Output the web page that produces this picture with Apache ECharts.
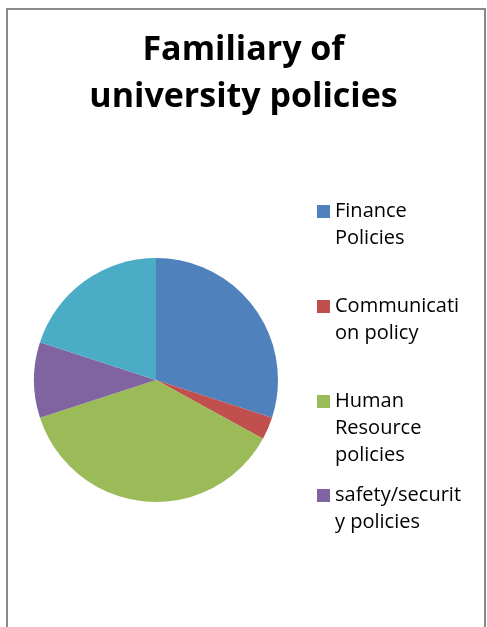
<!DOCTYPE html>
<html>
<head>
<meta charset="UTF-8"/>
<title>Familiary of university policies</title>
<script src="https://cdn.jsdelivr.net/npm/echarts@6/dist/echarts.min.js"></script>
<style>
html,body{margin:0;padding:0;background:#fff;}
#main{width:487px;height:627px;}
</style>
</head>
<body>
<div id="main"></div>
<script type="text/javascript">
// data (percent of answers)
var categories = ['Finance Policies', 'Communication policy', 'Human Resource policies', 'safety/security policies', 'Other policies'];
var values = [30, 3, 37, 10, 20];
var colors = ['#4F81BD', '#C0504D', '#9BBB59', '#8064A2', '#4BACC6'];
// legend labels wrapped the way the original box wraps them (5th entry is cut off)
var legendLabels = ['Finance\nPolicies', 'Communicati\non policy', 'Human\nResource\npolicies', 'safety/securit\ny policies'];
var legendIconTops = [205, 300, 395, 489];

var myChart = echarts.init(document.getElementById('main'));

var pieData = [];
for (var i = 0; i < categories.length; i++) {
    pieData.push({name: categories[i], value: values[i], itemStyle: {color: colors[i]}});
}

// one legend block per entry so each sits at its own height.
// icon is a tall box with the square at the top, so it lines up with the first text line
var LINE = 27;
var legends = [];
for (var j = 0; j < legendLabels.length; j++) {
    var h = LINE * legendLabels[j].split('\n').length;
    legends.push({
        orient: 'vertical',
        left: 317,
        top: legendIconTops[j] - 7,
        padding: 0,
        data: [categories[j]],
        icon: 'path://M0,7L13,7L13,20L0,20Z M0,0L0.001,0L0,0.001Z M0,' + h + 'L0.001,' + h + 'L0,' + (h - 0.001) + 'Z',
        itemWidth: 13,
        itemHeight: h,
        itemGap: 0,
        selectedMode: false,
        formatter: (function (lbl) { return function () { return lbl; }; })(legendLabels[j]),
        textStyle: {
            fontFamily: 'Open Sans',
            fontSize: 20,
            lineHeight: LINE,
            color: '#000'
        }
    });
}

var option = {
    animation: false,
    backgroundColor: '#fff',
    title: {
        text: 'Familiary of\nuniversity policies',
        left: 'center',
        top: 27,
        padding: 0,
        textStyle: {
            fontFamily: 'Open Sans',
            fontWeight: 'bold',
            fontSize: 34,
            lineHeight: 47,
            color: '#000'
        }
    },
    legend: legends,
    graphic: [{
        type: 'rect',
        shape: {x: 7, y: 9, width: 478, height: 700},
        style: {fill: 'none', stroke: '#8a8a8a', lineWidth: 2},
        silent: true
    }],
    series: [{
        type: 'pie',
        center: [156, 380],
        radius: 122,
        startAngle: 90,
        clockwise: true,
        label: {show: false},
        labelLine: {show: false},
        emphasis: {disabled: true},
        itemStyle: {borderWidth: 0},
        data: pieData
    }]
};

myChart.setOption(option);
</script>
</body>
</html>
